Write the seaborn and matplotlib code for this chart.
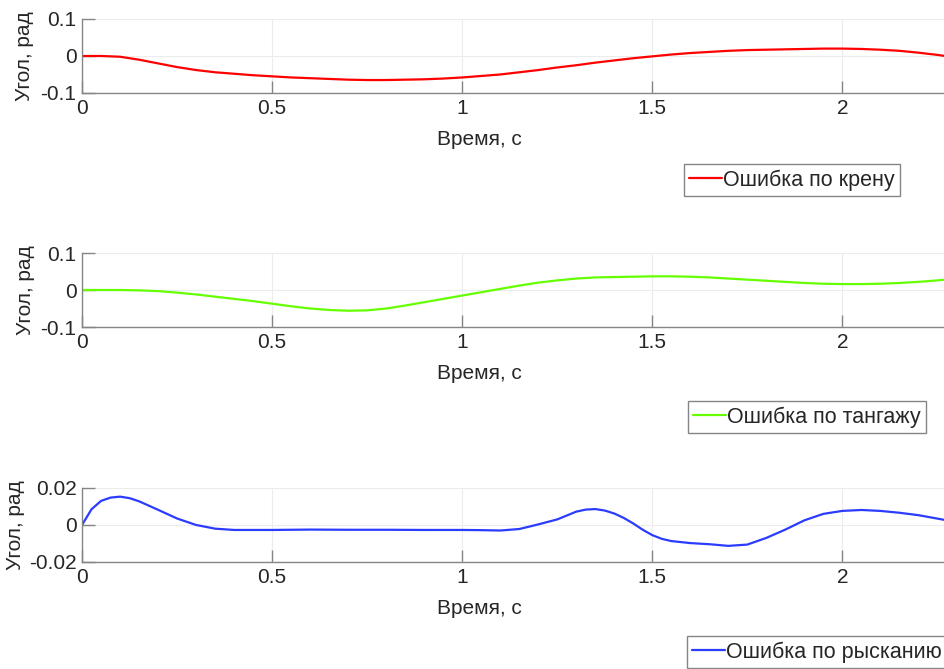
import numpy as np
import pandas as pd
import matplotlib
matplotlib.use('Agg')
import matplotlib.pyplot as plt
import seaborn as sns

# time samples, s (roll and pitch)
t = [0.0, 0.05, 0.1, 0.15, 0.2, 0.25, 0.3, 0.35, 0.4, 0.45, 0.5, 0.55, 0.6, 0.65,
     0.7, 0.75, 0.8, 0.85, 0.9, 0.95, 1.0, 1.05, 1.1, 1.15, 1.2, 1.25, 1.3, 1.35,
     1.4, 1.45, 1.5, 1.55, 1.6, 1.65, 1.7, 1.75, 1.8, 1.85, 1.9, 1.95, 2.0, 2.05,
     2.1, 2.15, 2.2, 2.25, 2.27]

# roll error, rad
roll = [0.0, 0.0, -0.002, -0.01, -0.02, -0.03, -0.038, -0.044, -0.048, -0.052,
        -0.055, -0.058, -0.06, -0.062, -0.064, -0.065, -0.065, -0.064, -0.063, -0.061,
        -0.058, -0.054, -0.05, -0.044, -0.038, -0.031, -0.025, -0.018, -0.012, -0.006,
        -0.001, 0.004, 0.008, 0.011, 0.014, 0.016, 0.017, 0.018, 0.019, 0.02,
        0.02, 0.019, 0.017, 0.014, 0.009, 0.003, 0.0]

# pitch error, rad
pitch = [0.0, 0.0, 0.0, -0.001, -0.003, -0.007, -0.012, -0.018, -0.024, -0.03,
         -0.037, -0.044, -0.05, -0.054, -0.056, -0.055, -0.05, -0.042, -0.033, -0.024,
         -0.015, -0.006, 0.003, 0.012, 0.02, 0.026, 0.031, 0.034, 0.035, 0.036,
         0.037, 0.037, 0.036, 0.034, 0.031, 0.028, 0.025, 0.022, 0.019, 0.017,
         0.016, 0.016, 0.017, 0.019, 0.022, 0.026, 0.028]

# time samples for yaw, s
t_yaw = [0.0, 0.025, 0.05, 0.075, 0.1, 0.125, 0.15, 0.175, 0.2, 0.25,
         0.3, 0.35, 0.4, 0.5, 0.6, 0.7, 0.8, 0.9, 1.0, 1.05,
         1.1, 1.15, 1.2, 1.25, 1.3, 1.325, 1.35, 1.375, 1.4, 1.425,
         1.45, 1.475, 1.5, 1.525, 1.55, 1.6, 1.65, 1.7, 1.75, 1.8,
         1.85, 1.9, 1.95, 2.0, 2.05, 2.1, 2.15, 2.2, 2.27]

# yaw error, rad
yaw = [0.0, 0.0085, 0.013, 0.0148, 0.0153, 0.0145, 0.0128, 0.0105, 0.0082, 0.0035,
       0.0, -0.002, -0.0027, -0.0027, -0.0025, -0.0026, -0.0026, -0.0027, -0.0027, -0.0028,
       -0.003, -0.0022, 0.0003, 0.003, 0.0072, 0.0083, 0.0086, 0.0078, 0.0062, 0.0038,
       0.0008, -0.0026, -0.0055, -0.0075, -0.0087, -0.0098, -0.0104, -0.0113, -0.0106, -0.007,
       -0.0025, 0.0025, 0.006, 0.0076, 0.0081, 0.0076, 0.0066, 0.0053, 0.0027]

names = ['Ошибка по крену', 'Ошибка по тангажу', 'Ошибка по рысканию']
colors = ['#ff0000', '#66ff00', '#2b3cff']
times = [t, t, t_yaw]
series = [roll, pitch, yaw]
yticks = [[-0.1, 0, 0.1], [-0.1, 0, 0.1], [-0.02, 0, 0.02]]
yticklabels = [['-0.1', '0', '0.1'], ['-0.1', '0', '0.1'], ['-0.02', '0', '0.02']]

sns.set_theme(style='whitegrid')
plt.rcParams['font.family'] = ['Liberation Sans', 'DejaVu Sans']

fig = plt.figure(figsize=(9.45, 6.69), dpi=100)
bottoms = [0.861, 0.5112, 0.16]
ylabel_x = [-0.056, -0.055, -0.066]
legend_pos = [(684 / 945, 1 - 164 / 669), (688 / 945, 1 - 401 / 669), (687 / 945, 1 - 636 / 669)]

for i in range(3):
    ax = fig.add_axes([0.0868, bottoms[i], 0.9132, 0.1106])
    df = pd.DataFrame({'t': times[i], 'v': series[i]})
    sns.lineplot(data=df, x='t', y='v', ax=ax, color=colors[i], linewidth=1.6, label=names[i])
    ax.set_xlim(0, 2.27)
    ax.set_ylim(yticks[i][0], yticks[i][-1])
    ax.set_xticks([0, 0.5, 1, 1.5, 2])
    ax.set_xticklabels(['0', '0.5', '1', '1.5', '2'])
    ax.set_yticks(yticks[i])
    ax.set_yticklabels(yticklabels[i])
    ax.grid(True, color='#ececec', linewidth=0.8)
    for s in ['top', 'right']:
        ax.spines[s].set_visible(False)
    for s in ['left', 'bottom']:
        ax.spines[s].set_visible(True)
        ax.spines[s].set_color('#858585')
        ax.spines[s].set_linewidth(1.0)
    ax.tick_params(direction='in', length=9, width=1, color='#858585',
                   labelsize=15, labelcolor='#262626', pad=4,
                   bottom=True, left=True)
    ax.set_xlabel('Время, с', fontsize=15, color='#262626')
    ax.set_ylabel('Угол, рад', fontsize=15, color='#262626')
    ax.xaxis.set_label_coords(0.461, -0.5)
    ax.yaxis.set_label_coords(ylabel_x[i], 0.5)
    ax.get_legend().remove()
    handles, labels = ax.get_legend_handles_labels()
    fig.legend(handles, labels, loc='upper left', bbox_to_anchor=legend_pos[i],
               bbox_transform=fig.transFigure, fontsize=15.5, frameon=True,
               fancybox=False, edgecolor='#858585', framealpha=1,
               handlelength=1.5, handletextpad=0.08, borderpad=0.25,
               borderaxespad=0)

fig.savefig('out.png', dpi=100)
